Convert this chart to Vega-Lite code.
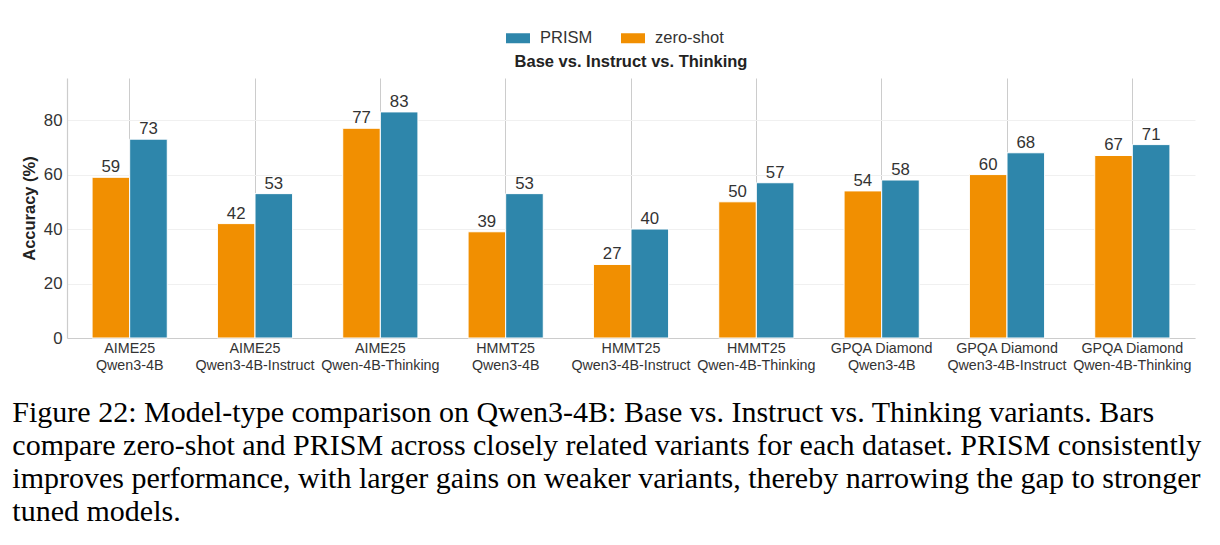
{
  "$schema": "https://vega.github.io/schema/vega-lite/v6.json",
  "background": "white",
  "padding": {"left": 12, "right": 5, "top": 28, "bottom": 5},
  "config": {
    "font": "Liberation Sans",
    "view": {"stroke": null},
    "concat": {"spacing": 0}
  },
  "title": {
    "text": [
      "Figure 22: Model-type comparison on Qwen3-4B: Base vs. Instruct vs. Thinking variants. Bars",
      "compare zero-shot and PRISM across closely related variants for each dataset. PRISM consistently",
      "improves performance, with larger gains on weaker variants, thereby narrowing the gap to stronger",
      "tuned models."
    ],
    "orient": "bottom",
    "anchor": "start",
    "frame": "bounds",
    "font": "Liberation Serif",
    "fontSize": 30,
    "fontWeight": "normal",
    "lineHeight": 33,
    "color": "black",
    "offset": 26,
    "dx": -9
  },
  "vconcat": [
    {
      "title": {
        "text": "Base vs. Instruct vs. Thinking",
        "fontSize": 16.5,
        "fontWeight": "bold",
        "color": "#222",
        "offset": 8
      },
      "width": 1128,
      "height": 260,
      "data": {
        "values": [
          {"group": "AIME25|Qwen3-4B", "method": "zero-shot", "acc": 59},
          {"group": "AIME25|Qwen3-4B", "method": "PRISM", "acc": 73},
          {"group": "AIME25|Qwen3-4B-Instruct", "method": "zero-shot", "acc": 42},
          {"group": "AIME25|Qwen3-4B-Instruct", "method": "PRISM", "acc": 53},
          {"group": "AIME25|Qwen-4B-Thinking", "method": "zero-shot", "acc": 77},
          {"group": "AIME25|Qwen-4B-Thinking", "method": "PRISM", "acc": 83},
          {"group": "HMMT25|Qwen3-4B", "method": "zero-shot", "acc": 39},
          {"group": "HMMT25|Qwen3-4B", "method": "PRISM", "acc": 53},
          {"group": "HMMT25|Qwen3-4B-Instruct", "method": "zero-shot", "acc": 27},
          {"group": "HMMT25|Qwen3-4B-Instruct", "method": "PRISM", "acc": 40},
          {"group": "HMMT25|Qwen-4B-Thinking", "method": "zero-shot", "acc": 50},
          {"group": "HMMT25|Qwen-4B-Thinking", "method": "PRISM", "acc": 57},
          {"group": "GPQA Diamond|Qwen3-4B", "method": "zero-shot", "acc": 54},
          {"group": "GPQA Diamond|Qwen3-4B", "method": "PRISM", "acc": 58},
          {"group": "GPQA Diamond|Qwen3-4B-Instruct", "method": "zero-shot", "acc": 60},
          {"group": "GPQA Diamond|Qwen3-4B-Instruct", "method": "PRISM", "acc": 68},
          {"group": "GPQA Diamond|Qwen-4B-Thinking", "method": "zero-shot", "acc": 67},
          {"group": "GPQA Diamond|Qwen-4B-Thinking", "method": "PRISM", "acc": 71}
        ]
      },
      "encoding": {
        "x": {
          "field": "group",
          "type": "nominal",
          "sort": null,
          "scale": {"paddingInner": 0.4, "paddingOuter": 0.2},
          "axis": {
            "title": null,
            "labelAngle": 0,
            "labelExpr": "split(datum.label, '|')",
            "labelFontSize": 14.3,
            "labelColor": "#333",
            "labelLineHeight": 17,
            "labelPadding": 3,
            "ticks": false,
            "grid": true,
            "gridColor": "#cccccc",
            "gridWidth": 1,
            "domainColor": "#cccccc",
            "domainWidth": 1.2
          }
        },
        "xOffset": {
          "field": "method",
          "type": "nominal",
          "sort": ["zero-shot", "PRISM"]
        },
        "y": {
          "field": "acc",
          "type": "quantitative",
          "scale": {"domain": [0, 95.45], "nice": false},
          "axis": {
            "title": "Accuracy (%)",
            "titleFontSize": 16.5,
            "titleFontWeight": "bold",
            "titleColor": "#222",
            "titlePadding": 6,
            "values": [0, 20, 40, 60, 80],
            "labelFontSize": 16.8,
            "labelColor": "#333",
            "labelPadding": 5,
            "ticks": false,
            "grid": true,
            "gridColor": "#f0f0f0",
            "gridWidth": 1,
            "domainColor": "#cccccc",
            "domainWidth": 1.2
          }
        }
      },
      "layer": [
        {
          "mark": {"type": "bar", "stroke": "white", "strokeWidth": 1},
          "encoding": {
            "color": {
              "field": "method",
              "type": "nominal",
              "scale": {"domain": ["PRISM", "zero-shot"], "range": ["#2E86AB", "#F18F01"]},
              "legend": {
                "orient": "none",
                "legendX": 441,
                "legendY": -50,
                "direction": "horizontal",
                "title": null,
                "symbolType": "M-1.2,-0.5H1.2V0.5H-1.2Z",
                "symbolSize": 400,
                "symbolStrokeWidth": 0,
                "labelFontSize": 16.5,
                "labelColor": "#333",
                "labelOffset": 12,
                "columnPadding": 28
              }
            }
          }
        },
        {
          "mark": {"type": "text", "baseline": "alphabetic", "dy": -5, "fontSize": 16.8, "color": "#333"},
          "encoding": {
            "text": {"field": "acc", "type": "quantitative", "format": ".0f"}
          }
        }
      ]
    }
  ]
}
